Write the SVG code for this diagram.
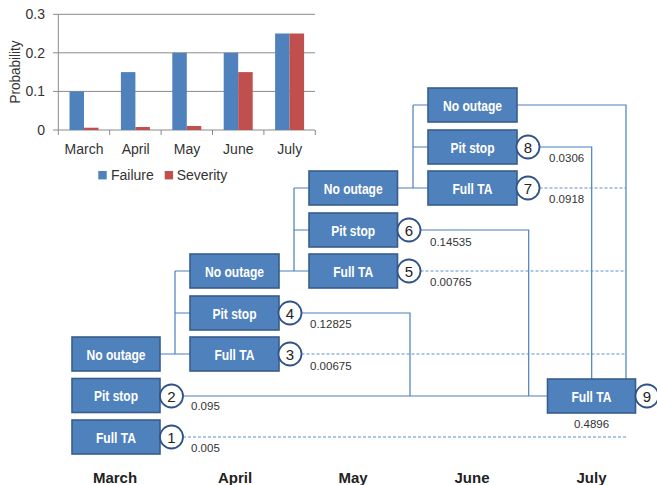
<svg xmlns="http://www.w3.org/2000/svg" width="657" height="485" viewBox="0 0 657 485">
<style>
.ax{font-family:"Liberation Sans",Arial,sans-serif;font-size:14px;fill:#333}
.grid{stroke:#8a8a8a;stroke-width:1;fill:none}
.fail{fill:#4F81BD}
.sev{fill:#C0504D}
.box rect{fill:#4F81BD;stroke:#385D8A;stroke-width:1.6}
.box text{font-family:"Liberation Sans",Arial,sans-serif;font-weight:bold;font-size:15px;fill:#fff;text-anchor:middle}
.circ circle{fill:#fff;stroke:#2F5388;stroke-width:1.8}
.circ text{font-family:"Liberation Sans",Arial,sans-serif;font-size:15px;fill:#222;text-anchor:middle}
.val{font-family:"Liberation Sans",Arial,sans-serif;font-size:11.5px;fill:#333}
.mon{font-family:"Liberation Sans",Arial,sans-serif;font-weight:bold;font-size:15px;fill:#222;text-anchor:middle}
.ln{stroke:#4A7EBB;stroke-width:1.2;fill:none}
.dash{stroke:#5F8FCB;stroke-width:1.2;fill:none;stroke-dasharray:3 2}
</style>
<g id="chart">
  <path class="grid" d="M53,14.3H315M53,52.8H315M53,91.4H315M53,130H315M58.3,14.3V130M58.3,130V135M109.7,130V135M161.1,130V135M212.5,130V135M263.9,130V135M315.3,130V135"/>
  <g class="ax" text-anchor="end">
    <text x="45" y="19">0.3</text>
    <text x="45" y="57.5">0.2</text>
    <text x="45" y="96">0.1</text>
    <text x="45" y="135">0</text>
  </g>
  <text class="ax" transform="translate(20,72) rotate(-90)" text-anchor="middle" textLength="63" lengthAdjust="spacingAndGlyphs">Probability</text>
  <rect class="fail" x="69.5" y="91.4" width="14.5" height="38.6"/>
  <rect class="sev" x="84" y="127.7" width="14.5" height="2.3"/>
  <rect class="fail" x="120.9" y="72.1" width="14.5" height="57.9"/>
  <rect class="sev" x="135.4" y="127" width="14.5" height="3"/>
  <rect class="fail" x="172.3" y="52.8" width="14.5" height="77.2"/>
  <rect class="sev" x="186.8" y="126" width="14.5" height="4"/>
  <rect class="fail" x="223.7" y="52.8" width="14.5" height="77.2"/>
  <rect class="sev" x="238.2" y="72.1" width="14.5" height="57.9"/>
  <rect class="fail" x="275.1" y="33.5" width="14.5" height="96.5"/>
  <rect class="sev" x="289.6" y="33.5" width="14.5" height="96.5"/>
  <g class="ax" text-anchor="middle">
    <text x="84" y="154">March</text>
    <text x="135.7" y="154">April</text>
    <text x="187" y="154">May</text>
    <text x="238.3" y="154">June</text>
    <text x="289.7" y="154">July</text>
  </g>
  <rect class="fail" x="98.3" y="171" width="8.4" height="8.4"/>
  <text class="ax" x="111" y="180">Failure</text>
  <rect class="sev" x="164.7" y="171" width="8.4" height="8.4"/>
  <text class="ax" x="176.7" y="180">Severity</text>
</g>
<g id="connectors">
  <path class="ln" d="M160,354H175M175,271V354M175,271H190M175,313H190M175,354H190"/>
  <path class="ln" d="M279,271H294M294,188V271M294,188H309M294,230H309M294,271H309"/>
  <path class="ln" d="M397.5,188H428M413,105V188M413,105H428M413,147H428"/>
  <path class="ln" d="M517,105H626V379"/>
  <path class="ln" d="M539.5,147H591.7V379"/>
  <path class="ln" d="M420.5,230H528.7V396"/>
  <path class="ln" d="M301.5,313H410V396"/>
  <path class="ln" d="M183,396H547"/>
  <path class="dash" d="M539.5,188H626"/>
  <path class="dash" d="M420.5,271H626"/>
  <path class="dash" d="M301.5,354H626"/>
  <path class="dash" d="M183,437H626"/>
</g>
<g id="m-nooutage" class="box"><rect x="72" y="337" width="88" height="34"/><text x="116" y="359.5" textLength="59" lengthAdjust="spacingAndGlyphs">No outage</text></g>
<g id="m-pitstop" class="box"><rect x="72" y="378.5" width="88" height="34"/><text x="116" y="401" textLength="44" lengthAdjust="spacingAndGlyphs">Pit stop</text></g>
<g id="m-fullta" class="box"><rect x="72" y="420" width="88" height="34"/><text x="116" y="442.5" textLength="40" lengthAdjust="spacingAndGlyphs">Full TA</text></g>
<g id="a-nooutage" class="box"><rect x="190" y="254" width="89" height="34"/><text x="234.5" y="276.5" textLength="59" lengthAdjust="spacingAndGlyphs">No outage</text></g>
<g id="a-pitstop" class="box"><rect x="190" y="296" width="89" height="34"/><text x="234.5" y="318.5" textLength="44" lengthAdjust="spacingAndGlyphs">Pit stop</text></g>
<g id="a-fullta" class="box"><rect x="190" y="337" width="89" height="34"/><text x="234.5" y="359.5" textLength="40" lengthAdjust="spacingAndGlyphs">Full TA</text></g>
<g id="y-nooutage" class="box"><rect x="309" y="171" width="88.5" height="34"/><text x="353.2" y="193.5" textLength="59" lengthAdjust="spacingAndGlyphs">No outage</text></g>
<g id="y-pitstop" class="box"><rect x="309" y="213" width="88.5" height="34"/><text x="353.2" y="235.5" textLength="44" lengthAdjust="spacingAndGlyphs">Pit stop</text></g>
<g id="y-fullta" class="box"><rect x="309" y="254" width="88.5" height="34"/><text x="353.2" y="276.5" textLength="40" lengthAdjust="spacingAndGlyphs">Full TA</text></g>
<g id="j-nooutage" class="box"><rect x="428" y="88" width="89" height="34"/><text x="472.5" y="110.5" textLength="59" lengthAdjust="spacingAndGlyphs">No outage</text></g>
<g id="j-pitstop" class="box"><rect x="428" y="130" width="89" height="34"/><text x="472.5" y="152.5" textLength="44" lengthAdjust="spacingAndGlyphs">Pit stop</text></g>
<g id="j-fullta" class="box"><rect x="428" y="171" width="89" height="34"/><text x="472.5" y="193.5" textLength="40" lengthAdjust="spacingAndGlyphs">Full TA</text></g>
<g id="jl-fullta" class="box"><rect x="547.5" y="379" width="88" height="34"/><text x="591.5" y="401.5" textLength="40" lengthAdjust="spacingAndGlyphs">Full TA</text></g>
<g id="c1" class="circ"><circle cx="171.5" cy="437" r="11.5"/><text x="171.5" y="442.5">1</text></g>
<g id="c2" class="circ"><circle cx="171.5" cy="396" r="11.5"/><text x="171.5" y="401.5">2</text></g>
<g id="c3" class="circ"><circle cx="290" cy="354" r="11.5"/><text x="290" y="359.5">3</text></g>
<g id="c4" class="circ"><circle cx="290" cy="313" r="11.5"/><text x="290" y="318.5">4</text></g>
<g id="c5" class="circ"><circle cx="409" cy="271" r="11.5"/><text x="409" y="276.5">5</text></g>
<g id="c6" class="circ"><circle cx="409" cy="230" r="11.5"/><text x="409" y="235.5">6</text></g>
<g id="c7" class="circ"><circle cx="528" cy="188" r="11.5"/><text x="528" y="193.5">7</text></g>
<g id="c8" class="circ"><circle cx="528" cy="147" r="11.5"/><text x="528" y="152.5">8</text></g>
<g id="c9" class="circ"><circle cx="647" cy="396" r="11.5"/><text x="647" y="401.5">9</text></g>
<g id="values" class="val">
  <text x="191" y="452">0.005</text>
  <text x="191" y="410">0.095</text>
  <text x="310" y="370">0.00675</text>
  <text x="310" y="328">0.12825</text>
  <text x="430" y="286">0.00765</text>
  <text x="430" y="246">0.14535</text>
  <text x="549" y="203">0.0918</text>
  <text x="549" y="162">0.0306</text>
  <text x="591.5" y="428" text-anchor="middle">0.4896</text>
</g>
<g id="months" class="mon">
  <text x="115" y="483">March</text>
  <text x="235" y="483">April</text>
  <text x="353" y="483">May</text>
  <text x="472" y="483">June</text>
  <text x="591.5" y="483">July</text>
</g>
</svg>
